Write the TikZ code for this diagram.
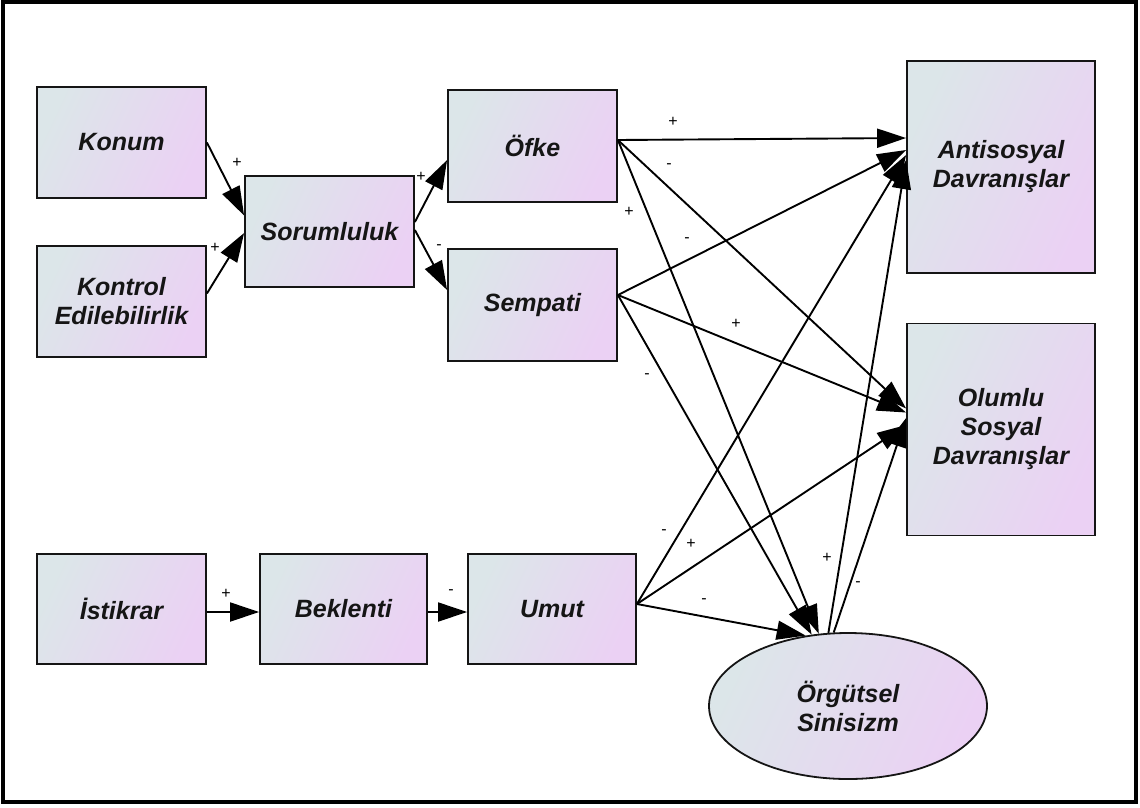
\documentclass[tikz,border=0pt]{standalone}
\usepackage{fontspec}
\setmainfont{Liberation Sans}
\usetikzlibrary{arrows.meta,shapes.geometric,calc}
\definecolor{fillL}{HTML}{DCE6E9}
\definecolor{fillR}{HTML}{EBD1F4}
\definecolor{ink}{HTML}{151515}
\begin{document}
\begin{tikzpicture}[x=1pt,y=1pt,
  box/.style={draw=ink, line width=1.8pt, left color=fillL, right color=fillR, shading angle=65,
    minimum width=169pt, minimum height=111pt, inner sep=2pt, align=center,
    font=\fontsize{25}{29}\selectfont\bfseries\itshape, text=ink},
  bigbox/.style={box, minimum width=188pt, minimum height=212pt},
  oval/.style={box, ellipse, minimum width=278pt, minimum height=146pt, inner sep=0pt},
  conn/.style={line width=1.9pt, draw=black, -{Triangle[length=29pt,width=19pt]}},
  sign/.style={font=\fontsize{16}{16}\selectfont, text=black, inner sep=0pt}
]
\useasboundingbox (0,0) rectangle (1140,-807);
\draw[line width=3.5pt, draw=black] (3,-2) rectangle (1136,-802);

% nodes
\node[box] (konum)   at (121.5,-142.5) {Konum};
\node[box] (kontrol) at (121.5,-301.5) {Kontrol\\Edilebilirlik};
\node[box] (sor)     at (329.5,-231.5) {Sorumluluk};
\node[box, minimum height=112pt] (ofke)    at (532.5,-146) {Öfke};
\node[box, minimum height=112pt] (sempati) at (532.5,-305) {Sempati};
\node[bigbox] (anti)   at (1001,-167)   {Antisosyal\\Davranışlar};
\node[bigbox] (olumlu) at (1001,-429.5) {Olumlu\\Sosyal\\Davranışlar};
\node[box, minimum height=110pt] (istikrar) at (121.5,-609) {İstikrar};
\node[box, minimum width=167pt, minimum height=110pt] (beklenti) at (343.5,-609) {Beklenti};
\node[box, minimum width=168pt, minimum height=110pt] (umut) at (552,-609) {Umut};
\node[oval] (org) at (848,-706) {Örgütsel\\Sinisizm};

% connectors
\draw[conn] (konum.east) -- ([yshift=16pt]sor.west);
\draw[conn] ([yshift=8pt]kontrol.east) -- ([yshift=-1.5pt]sor.west);
\draw[conn] ([yshift=9.5pt]sor.east) -- ([yshift=-14pt]ofke.west);
\draw[conn] ([yshift=1.5pt]sor.east) -- ([yshift=15pt]sempati.west);

\draw[conn] ([yshift=6pt]ofke.east) -- ([yshift=29pt]anti.west);
\draw[conn] ([yshift=6pt]ofke.east) -- ([yshift=21pt]olumlu.west);
\draw[conn] ([yshift=6pt]ofke.east) -- (org.112);

\draw[conn] ([yshift=10pt]sempati.east) -- ([yshift=17pt]anti.west);
\draw[conn] ([yshift=10pt]sempati.east) -- ([yshift=17pt]olumlu.west);
\draw[conn] ([yshift=10pt]sempati.east) -- (org.117);

\draw[conn] ([yshift=5pt]umut.east) -- ([yshift=12pt]anti.west);
\draw[conn] ([yshift=5pt]umut.east) -- ([yshift=4.5pt]olumlu.west);
\draw[conn] ([yshift=5pt]umut.east) -- (org.121);

\draw[conn] (org.105) -- ([yshift=7pt]anti.west);
\draw[conn] (org.101) -- ([yshift=11.5pt]olumlu.west);

\draw[conn] ([yshift=-3pt]istikrar.east) -- ([yshift=-3pt]beklenti.west);
\draw[conn] ([yshift=-3pt]beklenti.east) -- ([yshift=-3pt]umut.west);

% signs on the connectors
\node[sign] (s1)  at (237,-163) {+};
\node[sign] (s2)  at (215,-248) {+};
\node[sign] (s3)  at (421,-177) {+};
\node[sign] (s4)  at (439,-247) {-};
\node[sign] (s5)  at (673,-122) {+};
\node[sign] (s6)  at (669,-166) {-};
\node[sign] (s7)  at (629,-212) {+};
\node[sign] (s8)  at (687,-240) {-};
\node[sign] (s9)  at (736,-324) {+};
\node[sign] (s10) at (647,-376) {-};
\node[sign] (s11) at (664,-532) {-};
\node[sign] (s12) at (691,-544) {+};
\node[sign] (s13) at (704,-601) {-};
\node[sign] (s14) at (827,-558) {+};
\node[sign] (s15) at (858,-584) {-};
\node[sign] (s16) at (226,-594) {+};
\node[sign] (s17) at (451,-592) {-};
\end{tikzpicture}
\end{document}
